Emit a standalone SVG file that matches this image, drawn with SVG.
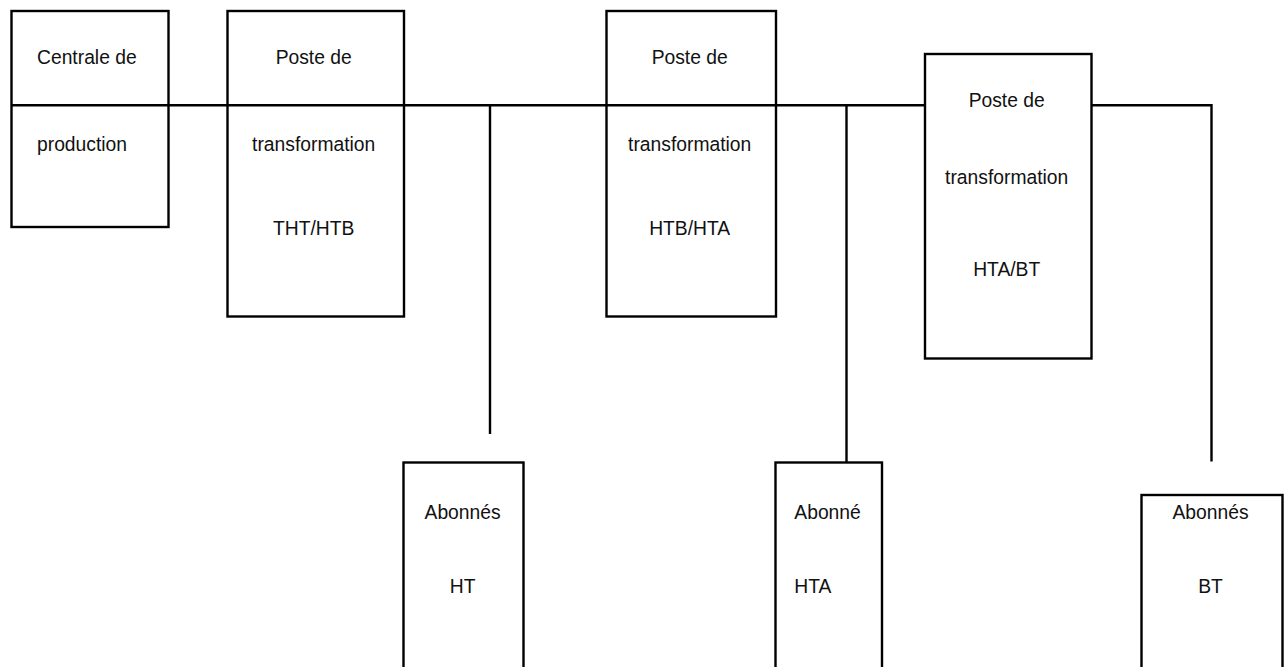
<svg xmlns="http://www.w3.org/2000/svg" width="1285" height="667" viewBox="0 0 1285 667">
  <style>
    .box { fill: none; stroke: #000; stroke-width: 2.4; }
    .wire { fill: none; stroke: #000; stroke-width: 2.4; stroke-linecap: butt; stroke-linejoin: miter; }
    .lbl { font-family: "Liberation Sans", Arial, sans-serif; font-size: 19.3px; fill: #111; }
    .c { text-anchor: middle; }
  </style>
  <rect width="1285" height="667" fill="#fff"/>

  <!-- busbar and feeders -->
  <g id="connectors">
    <path class="wire" d="M11.5 105.3 H925"/>
    <path class="wire" d="M1091.5 105.3 H1211.5 V461.5"/>
    <path class="wire" d="M490 105.3 V434"/>
    <path class="wire" d="M846.5 105.3 V462.5"/>
  </g>

  <g id="centrale">
    <rect class="box" x="11.5" y="11" width="157" height="216"/>
    <text class="lbl" x="37" y="64">Centrale de</text>
    <text class="lbl" x="37" y="150.7">production</text>
  </g>

  <g id="poste-tht-htb">
    <rect class="box" x="227.5" y="11" width="176.5" height="305.5"/>
    <text class="lbl c" x="313.7" y="64">Poste de</text>
    <text class="lbl c" x="313.7" y="150.7">transformation</text>
    <text class="lbl c" x="313.7" y="235">THT/HTB</text>
  </g>

  <g id="poste-htb-hta">
    <rect class="box" x="606.5" y="11" width="169.5" height="305.5"/>
    <text class="lbl c" x="689.7" y="64">Poste de</text>
    <text class="lbl c" x="689.7" y="150.7">transformation</text>
    <text class="lbl c" x="689.7" y="235">HTB/HTA</text>
  </g>

  <g id="poste-hta-bt">
    <rect class="box" x="925" y="54" width="166.5" height="304.5"/>
    <text class="lbl c" x="1006.7" y="107.3">Poste de</text>
    <text class="lbl c" x="1006.7" y="184">transformation</text>
    <text class="lbl c" x="1006.7" y="276.3">HTA/BT</text>
  </g>

  <g id="abonnes-ht">
    <rect class="box" x="403.5" y="462.5" width="120" height="260"/>
    <text class="lbl c" x="462.6" y="519.3">Abonnés</text>
    <text class="lbl c" x="462.6" y="592.7">HT</text>
  </g>

  <g id="abonne-hta">
    <rect class="box" x="775.5" y="462.5" width="106.5" height="260"/>
    <text class="lbl" x="794.3" y="519.3">Abonné</text>
    <text class="lbl" x="794.3" y="592.7">HTA</text>
  </g>

  <g id="abonnes-bt">
    <rect class="box" x="1141.5" y="495" width="141" height="230"/>
    <text class="lbl c" x="1210.5" y="519.3">Abonnés</text>
    <text class="lbl c" x="1210.5" y="592.7">BT</text>
  </g>
</svg>
